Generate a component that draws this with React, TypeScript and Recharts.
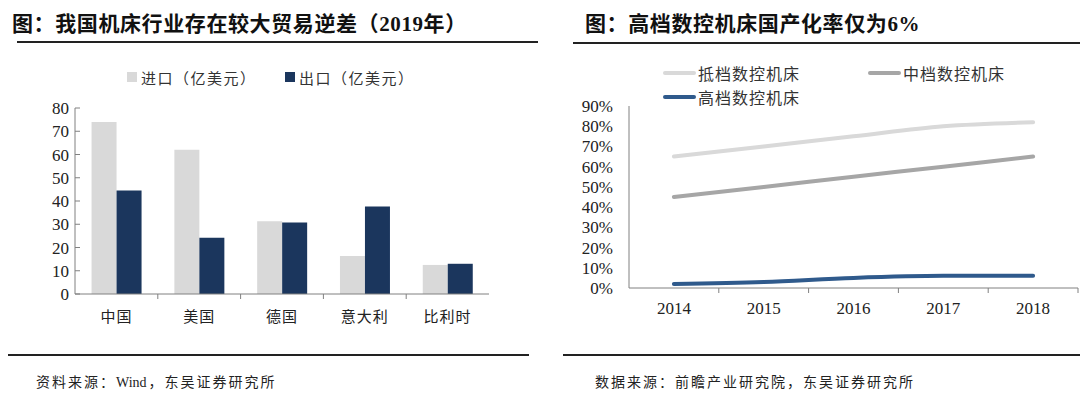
import React from 'react';
import { BarChart, Bar, LineChart, Line, XAxis, YAxis, Legend } from 'recharts';

// ---- Left chart data ----
const countries = ['中国', '美国', '德国', '意大利', '比利时'];
const importValues = [74, 62, 31.3, 16.3, 12.5];
const exportValues = [44.5, 24.2, 30.8, 37.6, 13];
const barSeriesNames = ['进口（亿美元）', '出口（亿美元）'];
const leftYTicks = [0, 10, 20, 30, 40, 50, 60, 70, 80];

// ---- Right chart data ----
const years = ['2014', '2015', '2016', '2017', '2018'];
const lowEnd = [65, 70, 75, 80, 82];
const midEnd = [45, 50, 55, 60, 65];
const highEnd = [2, 3, 5, 6, 6];
const lineSeriesNames = ['抵档数控机床', '中档数控机床', '高档数控机床'];
const rightYTicks = [0, 10, 20, 30, 40, 50, 60, 70, 80, 90];

// ---- Text ----
const leftTitle = '图：我国机床行业存在较大贸易逆差（2019年）';
const rightTitle = '图：高档数控机床国产化率仅为6%';
const leftSource = '资料来源：Wind，东吴证券研究所';
const rightSource = '数据来源：前瞻产业研究院，东吴证券研究所';

const barData = countries.map((c, i) => ({ name: c, imp: importValues[i], exp: exportValues[i] }));
const lineData = years.map((y, i) => ({ name: y, low: lowEnd[i], mid: midEnd[i], high: highEnd[i] }));

const FONT = "'Liberation Serif', 'Noto Sans CJK SC', serif";
const CJK = "'Noto Sans CJK SC', 'Liberation Serif', serif";

const C_IMPORT = '#d9d9d9';
const C_EXPORT = '#1b365d';
const C_LOW = '#d9d9d9';
const C_MID = '#a6a6a6';
const C_HIGH = '#2f5a8c';
const AXIS = '#808080';

function orderBy(payload: any[], names: string[]) {
  return [...(payload || [])].sort((a, b) => names.indexOf(a.value) - names.indexOf(b.value));
}

function SpacedText({ text }: { text: string }) {
  const parts = text.split(/([A-Za-z0-9]+)/).filter((s) => s.length > 0);
  return (
    <>
      {parts.map((s, i) =>
        /^[A-Za-z0-9]+$/.test(s) ? (
          <span key={i} style={{ letterSpacing: 0, marginRight: 2 }}>
            {s}
          </span>
        ) : (
          <span key={i}>{s}</span>
        )
      )}
    </>
  );
}

function BoundaryTick(props: any) {
  const { x, y, payload, index, gap, fontSize, skipLast, count, family, spacing } = props;
  const off = payload && payload.offset != null ? payload.offset : 0;
  const axisY = y - gap;
  const showLine = !(skipLast && index === count - 1);
  return (
    <g>
      {showLine && (
        <line x1={x + off} x2={x + off} y1={axisY} y2={axisY + 5} stroke={AXIS} strokeWidth={1} />
      )}
      <text
        x={x}
        y={y}
        dy="0.71em"
        textAnchor="middle"
        fontSize={fontSize}
        fontFamily={family}
        fill="#222"
        style={{ letterSpacing: spacing }}
      >
        {payload.value}
      </text>
    </g>
  );
}

function BarLegend(props: any) {
  const items = orderBy(props.payload, barSeriesNames);
  const pos = [{ left: 127 }, { left: 285 }];
  return (
    <div style={{ position: 'relative', width: 420, height: 20 }}>
      {items.map((p: any, i: number) => (
        <div
          key={i}
          style={{
            position: 'absolute',
            left: pos[i].left,
            top: 0,
            display: 'flex',
            alignItems: 'center',
            height: 20,
            fontFamily: CJK,
            fontSize: 15,
            letterSpacing: 1.5,
            color: '#333',
            whiteSpace: 'nowrap',
          }}
        >
          <span style={{ display: 'inline-block', width: 10, height: 10, background: p.color, marginRight: 4 }} />
          {p.value}
        </div>
      ))}
    </div>
  );
}

function LineLegend(props: any) {
  const items = orderBy(props.payload, lineSeriesNames);
  const pos = [
    { left: 123, top: 0 },
    { left: 328, top: 0 },
    { left: 123, top: 24 },
  ];
  return (
    <div style={{ position: 'relative', width: 420, height: 48 }}>
      {items.map((p: any, i: number) => (
        <div
          key={i}
          style={{
            position: 'absolute',
            left: pos[i].left,
            top: pos[i].top,
            display: 'flex',
            alignItems: 'center',
            height: 20,
            fontFamily: CJK,
            fontSize: 16,
            letterSpacing: 1,
            color: '#333',
            whiteSpace: 'nowrap',
          }}
        >
          <span
            style={{
              display: 'inline-block',
              width: 33,
              height: 4,
              borderRadius: 2,
              background: p.color,
              marginRight: 2,
            }}
          />
          {p.value}
        </div>
      ))}
    </div>
  );
}

export default function App() {
  return (
    <div
      style={{
        position: 'absolute',
        left: 0,
        top: 0,
        width: 1080,
        height: 397,
        background: '#fff',
        overflow: 'hidden',
        fontFamily: FONT,
      }}
    >
      {/* Titles */}
      <div
        style={{
          position: 'absolute',
          left: 12,
          top: 12,
          fontSize: 21,
          lineHeight: '24px',
          fontWeight: 700,
          letterSpacing: 0.6,
          fontFamily: FONT,
          color: '#111',
          whiteSpace: 'nowrap',
        }}
      >
        {leftTitle}
      </div>
      <div
        style={{
          position: 'absolute',
          left: 585,
          top: 12,
          fontSize: 21,
          lineHeight: '24px',
          fontWeight: 700,
          letterSpacing: 0.6,
          fontFamily: FONT,
          color: '#111',
          whiteSpace: 'nowrap',
        }}
      >
        {rightTitle}
      </div>
      <div style={{ position: 'absolute', left: 17, top: 41, width: 521, height: 2, background: '#222' }} />
      <div style={{ position: 'absolute', left: 573, top: 42, width: 507, height: 2, background: '#222' }} />

      {/* Left bar chart */}
      <div style={{ position: 'absolute', left: 0, top: 50 }}>
        <BarChart
          width={500}
          height={290}
          data={barData}
          margin={{ top: 58, right: 11, bottom: 16, left: 0 }}
          barCategoryGap="20%"
          barGap={0}
        >
          <XAxis
            dataKey="name"
            height={30}
            axisLine={{ stroke: AXIS }}
            tickLine={false}
            tickSize={0}
            tickMargin={17}
            interval={0}
            tick={(p: any) => (
              <BoundaryTick {...p} gap={17} fontSize={15} skipLast count={countries.length} family={CJK} spacing={1} />
            )}
          />
          <YAxis
            width={75}
            domain={[0, 80]}
            ticks={leftYTicks}
            interval={0}
            axisLine={{ stroke: AXIS }}
            tickLine={{ stroke: AXIS }}
            tickSize={-5}
            tickMargin={11}
            tick={{ fontSize: 17, fill: '#222', fontFamily: FONT }}
          />
          <Legend
            layout="horizontal"
            verticalAlign="middle"
            align="center"
            wrapperStyle={{ top: 17, left: 0, width: 420, height: 20 }}
            content={(p: any) => <BarLegend {...p} />}
          />
          <Bar dataKey="imp" name={barSeriesNames[0]} fill={C_IMPORT} isAnimationActive={false} />
          <Bar dataKey="exp" name={barSeriesNames[1]} fill={C_EXPORT} isAnimationActive={false} />
        </BarChart>
      </div>

      {/* Right line chart */}
      <div style={{ position: 'absolute', left: 540, top: 50 }}>
        <LineChart
          width={540}
          height={290}
          data={lineData}
          margin={{ top: 56, right: 2, bottom: 22, left: 0 }}
        >
          <XAxis
            dataKey="name"
            scale="band"
            height={30}
            axisLine={{ stroke: AXIS }}
            tickLine={false}
            tickSize={0}
            tickMargin={14}
            interval={0}
            tick={(p: any) => (
              <BoundaryTick {...p} gap={14} fontSize={17} count={years.length} family={FONT} spacing={0} />
            )}
          />
          <YAxis
            width={89}
            domain={[0, 90]}
            ticks={rightYTicks}
            interval={0}
            axisLine={{ stroke: AXIS }}
            tickLine={false}
            tickSize={0}
            tickMargin={16}
            tickFormatter={(v: number) => `${v}%`}
            tick={{ fontSize: 17, fill: '#222', fontFamily: FONT }}
          />
          <Legend
            layout="horizontal"
            verticalAlign="middle"
            align="center"
            wrapperStyle={{ top: 13, left: 0, width: 420, height: 48 }}
            content={(p: any) => <LineLegend {...p} />}
          />
          <Line
            type="monotone"
            dataKey="low"
            name={lineSeriesNames[0]}
            stroke={C_LOW}
            strokeWidth={4}
            dot={false}
            strokeLinecap="round"
            isAnimationActive={false}
          />
          <Line
            type="monotone"
            dataKey="mid"
            name={lineSeriesNames[1]}
            stroke={C_MID}
            strokeWidth={4}
            dot={false}
            strokeLinecap="round"
            isAnimationActive={false}
          />
          <Line
            type="monotone"
            dataKey="high"
            name={lineSeriesNames[2]}
            stroke={C_HIGH}
            strokeWidth={4}
            dot={false}
            strokeLinecap="round"
            isAnimationActive={false}
          />
        </LineChart>
      </div>

      {/* Bottom rules and sources */}
      <div style={{ position: 'absolute', left: 8, top: 354, width: 521, height: 2, background: '#222' }} />
      <div style={{ position: 'absolute', left: 563, top: 354, width: 517, height: 2, background: '#222' }} />
      <div
        style={{
          position: 'absolute',
          left: 36,
          top: 374,
          fontSize: 14,
          lineHeight: '18px',
          letterSpacing: 2,
          fontFamily: FONT,
          color: '#222',
          whiteSpace: 'nowrap',
        }}
      >
        <SpacedText text={leftSource} />
      </div>
      <div
        style={{
          position: 'absolute',
          left: 595,
          top: 374,
          fontSize: 14,
          lineHeight: '18px',
          letterSpacing: 2,
          fontFamily: FONT,
          color: '#222',
          whiteSpace: 'nowrap',
        }}
      >
        <SpacedText text={rightSource} />
      </div>
    </div>
  );
}
